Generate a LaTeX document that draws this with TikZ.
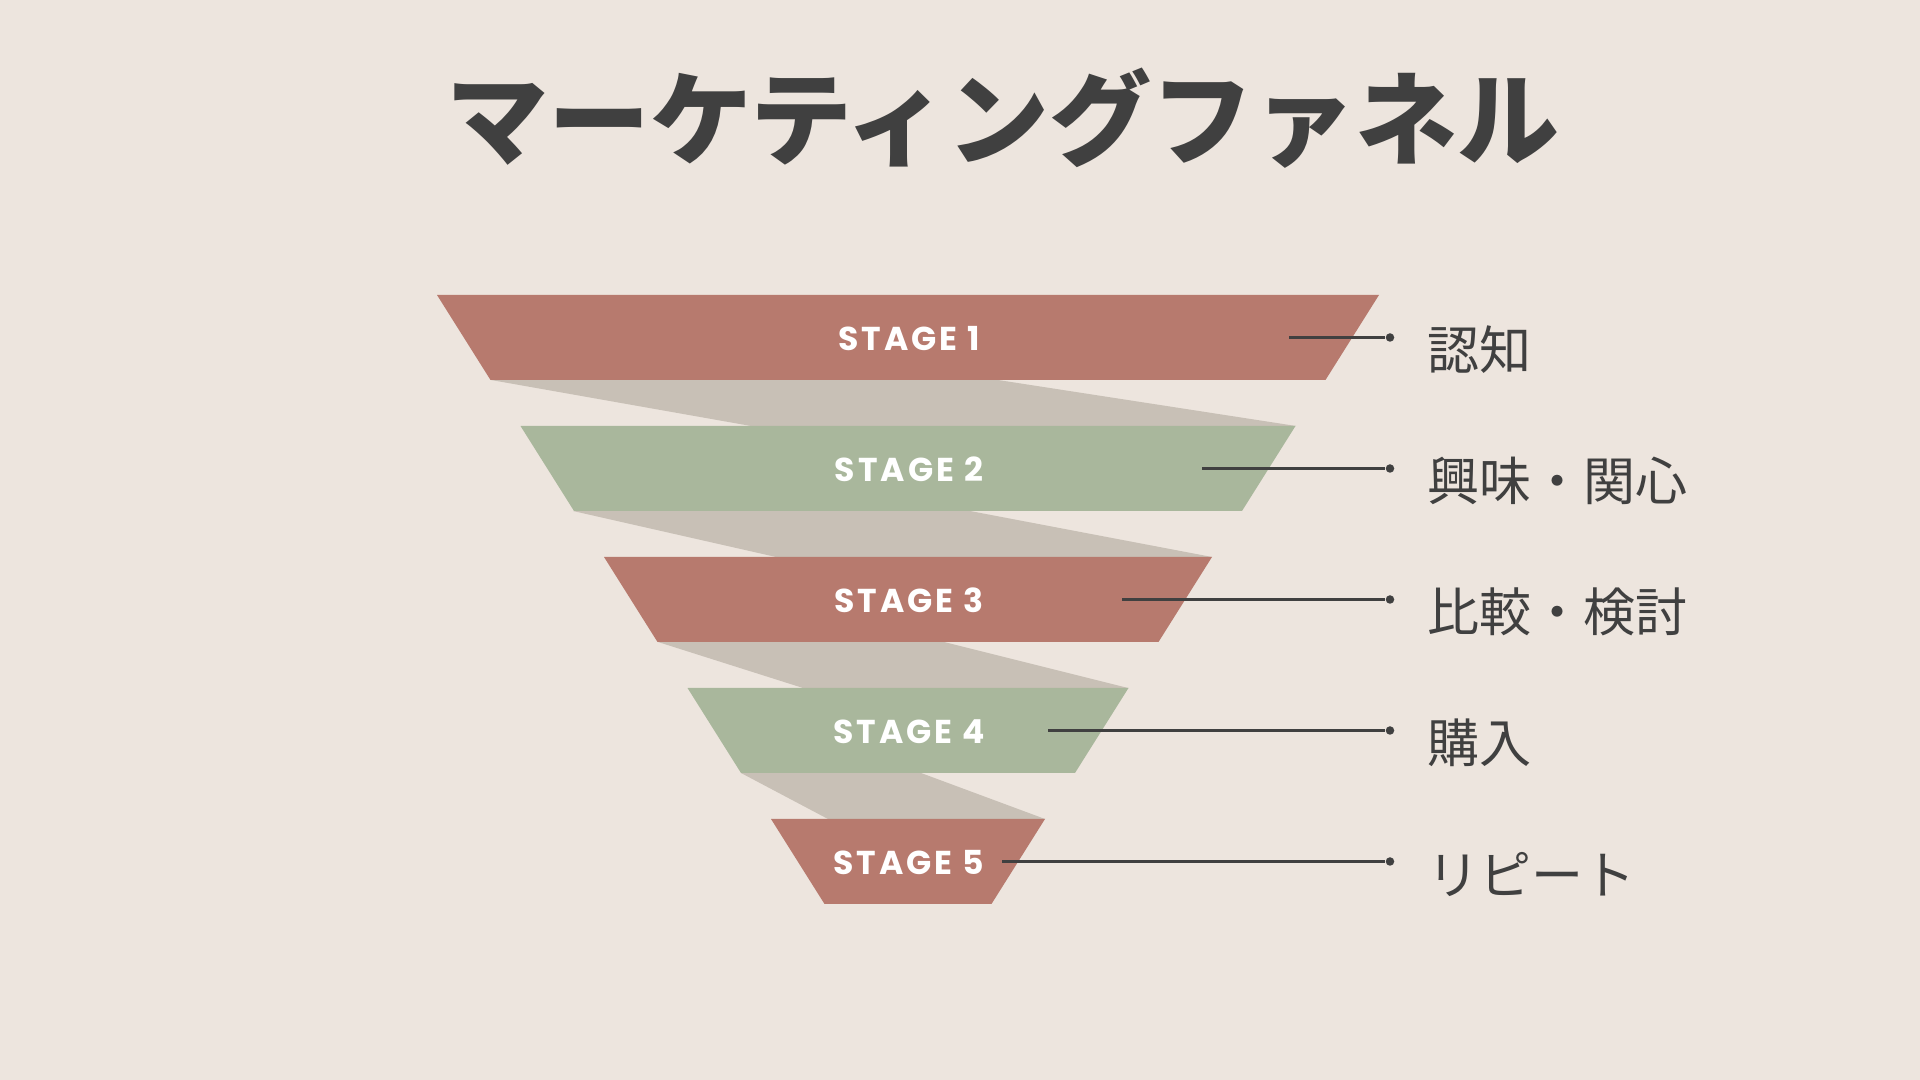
\documentclass[tikz,border=0pt]{standalone}
\usepackage{fontspec}
\newfontfamily\jpfont{Noto Sans CJK JP}
\newfontfamily\stagefont{Poppins}[LetterSpace=9]
\definecolor{bgc}{HTML}{EDE5DE}
\definecolor{ink}{HTML}{404040}
\definecolor{redst}{HTML}{B77A6E}
\definecolor{greenst}{HTML}{A9B79C}
\definecolor{ribbon}{HTML}{C8C0B6}

\begin{document}
\begin{tikzpicture}[x=0.01cm,y=-0.01cm,
  stagelbl/.style={text=white,inner sep=0pt,font=\stagefont\bfseries\fontsize{9.4}{10}\selectfont},
  tag/.style={anchor=west,inner sep=0pt,text=ink,font=\jpfont\fontsize{14.8}{16}\selectfont},
  dot/.style={circle,fill=ink,inner sep=0pt,minimum size=0.085cm},
  lead/.style={ink,line width=0.6pt}]
\fill[bgc] (0,0) rectangle (1920,1080);
\useasboundingbox (0,0) rectangle (1920,1080);
% title
\node[font=\jpfont\bfseries\fontsize{29}{31}\selectfont,text=ink,inner sep=0pt] (title) at (1003,118) {マーケティングファネル};
% ribbons between stages
\foreach \a/\b/\c/\d/\t/\u in {491/998/1296/751/380/426, 573/970/1212/776/511/557,
  658/944/1128/803/642/688, 741/921/1045/828/773/819} {
  \fill[ribbon] (\a,\t) -- (\b,\t) -- (\c,\u) -- (\d,\u) -- cycle;
}
% stages
\foreach \i/\col/\lx/\txt in {1/redst/1289/認知, 2/greenst/1202/興味・関心,
  3/redst/1122/比較・検討, 4/greenst/1048/購入, 5/redst/1002/リピート} {
  \pgfmathsetmacro\yt{295+131*(\i-1)}
  \pgfmathsetmacro\yb{\yt+85}
  \pgfmathsetmacro\ym{\yt+42.5}
  \pgfmathsetmacro\xl{437+83.5*(\i-1)}
  \pgfmathsetmacro\xr{1379-83.5*(\i-1)}
  \fill[\col] (\xl,\yt) -- (\xr,\yt) -- (\xr-53.5,\yb) -- (\xl+53.5,\yb) -- cycle;
  \node[stagelbl] (st\i) at (909,\ym+1) {STAGE \i};
  \coordinate (s\i) at (\lx,\ym);
  \node[dot] (d\i) at (1390,\ym) {};
  \draw[lead] (s\i) -- (d\i);
  \node[tag] (tag\i) at (1427,\ym+12.5) {\txt};
}
\end{tikzpicture}
\end{document}
